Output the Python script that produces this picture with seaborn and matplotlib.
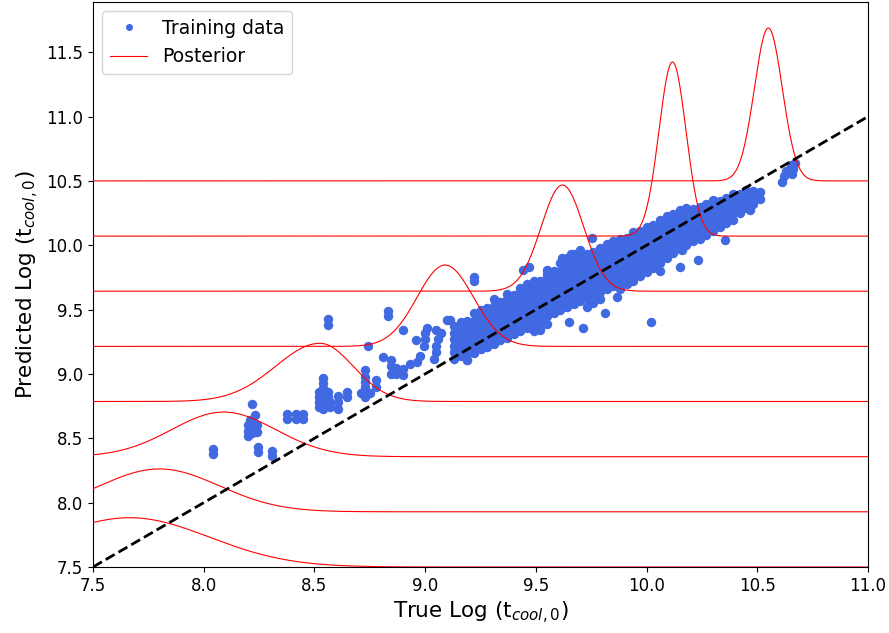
import numpy as np
import pandas as pd
import matplotlib
matplotlib.use("Agg")
import matplotlib.pyplot as plt
from matplotlib.lines import Line2D
import seaborn as sns

# ---------------- data ----------------
# sparse training points (true, predicted)
sparse_x = [8.04, 8.04, 8.22,
            8.20, 8.20, 8.20, 8.21, 8.22, 8.22, 8.22, 8.24, 8.24, 8.23,
            8.245, 8.245, 8.31, 8.31,
            8.375, 8.375, 8.415, 8.415, 8.45, 8.45,
            8.54, 8.54, 8.54, 8.54, 8.54, 8.54, 8.54, 8.52, 8.52, 8.56, 8.56, 8.57, 8.57, 8.52, 8.52,
            8.607, 8.607, 8.607, 8.647, 8.647,
            8.56, 8.56,
            8.74, 8.83, 8.83, 8.90,
            8.73, 8.73, 8.73, 8.73, 8.73, 8.73, 8.71, 8.75,
            8.78, 8.78, 8.81, 8.845, 8.845, 8.845, 8.87, 8.87, 8.90, 8.90, 8.93,
            8.96, 8.965, 8.975, 8.995, 9.00, 9.00, 9.01,
            9.04, 9.05, 9.05, 9.06, 9.07, 9.05, 9.10, 9.11, 9.22, 9.22, 9.19, 9.325]
sparse_y = [8.38, 8.42, 8.77,
            8.52, 8.56, 8.60, 8.64, 8.54, 8.58, 8.62, 8.55, 8.60, 8.68,
            8.39, 8.43, 8.36, 8.40,
            8.65, 8.69, 8.65, 8.69, 8.65, 8.69,
            8.97, 8.93, 8.89, 8.85, 8.81, 8.77, 8.73, 8.86, 8.82, 8.86, 8.82, 8.78, 8.74, 8.78, 8.74,
            8.73, 8.78, 8.83, 8.82, 8.86,
            9.38, 9.43,
            9.22, 9.45, 9.49, 9.34,
            8.82, 8.86, 8.90, 8.94, 8.98, 9.03, 8.85, 8.85,
            8.90, 8.95, 9.13, 9.00, 9.06, 9.11, 9.00, 9.05, 8.99, 9.04, 9.08,
            9.26, 9.09, 9.14, 9.22, 9.27, 9.32, 9.36,
            9.12, 9.17, 9.22, 9.27, 9.32, 9.34, 9.42, 9.42, 9.72, 9.755, 9.11, 9.26]

# dense band: true value of each column and the predicted values seen in it
band_x = [9.13, 9.16, 9.19, 9.22, 9.25, 9.28, 9.31, 9.34, 9.37, 9.40,
          9.43, 9.46, 9.49, 9.52, 9.55, 9.58, 9.61, 9.64, 9.67, 9.70,
          9.73, 9.76, 9.79, 9.82, 9.85, 9.88, 9.91, 9.94, 9.97, 10.00,
          10.03, 10.06, 10.09, 10.12, 10.15, 10.18, 10.21, 10.24, 10.27, 10.30,
          10.33, 10.36, 10.39, 10.42, 10.45, 10.48, 10.51]
band_y = [
    [9.12, 9.17, 9.22, 9.27, 9.32, 9.37],
    [9.14, 9.19, 9.24, 9.29, 9.34, 9.40],
    [9.11, 9.16, 9.21, 9.26, 9.31, 9.36, 9.41],
    [9.16, 9.21, 9.26, 9.31, 9.36, 9.41, 9.47],
    [9.19, 9.24, 9.29, 9.34, 9.39, 9.44, 9.50],
    [9.21, 9.26, 9.31, 9.36, 9.41, 9.46, 9.51],
    [9.23, 9.28, 9.33, 9.38, 9.43, 9.48, 9.53, 9.58],
    [9.26, 9.31, 9.36, 9.41, 9.46, 9.51, 9.56],
    [9.28, 9.33, 9.38, 9.43, 9.48, 9.53, 9.58, 9.62],
    [9.31, 9.36, 9.41, 9.46, 9.51, 9.56, 9.61],
    [9.33, 9.38, 9.43, 9.48, 9.53, 9.58, 9.63, 9.67],
    [9.36, 9.41, 9.46, 9.51, 9.56, 9.61, 9.66, 9.70],
    [9.33, 9.38, 9.43, 9.48, 9.53, 9.58, 9.63, 9.68, 9.72],
    [9.36, 9.42, 9.47, 9.52, 9.57, 9.62, 9.67, 9.72],
    [9.39, 9.45, 9.50, 9.55, 9.60, 9.65, 9.70, 9.75, 9.78],
    [9.47, 9.52, 9.57, 9.62, 9.67, 9.72, 9.77, 9.80],
    [9.50, 9.55, 9.60, 9.65, 9.70, 9.75, 9.80, 9.86],
    [9.52, 9.57, 9.62, 9.67, 9.72, 9.77, 9.82, 9.86, 9.90],
    [9.54, 9.59, 9.64, 9.69, 9.74, 9.79, 9.84, 9.88, 9.93],
    [9.57, 9.62, 9.67, 9.72, 9.77, 9.82, 9.87, 9.91, 9.96],
    [9.52, 9.58, 9.63, 9.68, 9.73, 9.78, 9.83, 9.88, 9.93],
    [9.55, 9.60, 9.65, 9.70, 9.75, 9.80, 9.85, 9.90, 9.95],
    [9.58, 9.64, 9.69, 9.74, 9.79, 9.84, 9.89, 9.94, 9.98],
    [9.66, 9.71, 9.76, 9.81, 9.86, 9.91, 9.96, 10.01],
    [9.68, 9.73, 9.78, 9.83, 9.88, 9.93, 9.98, 10.03],
    [9.66, 9.71, 9.76, 9.81, 9.86, 9.91, 9.96, 10.01, 10.05],
    [9.70, 9.75, 9.80, 9.85, 9.90, 9.95, 10.00, 10.06],
    [9.72, 9.77, 9.82, 9.87, 9.92, 9.97, 10.02, 10.07, 10.10],
    [9.76, 9.81, 9.86, 9.91, 9.96, 10.01, 10.06, 10.11],
    [9.79, 9.84, 9.89, 9.94, 9.99, 10.04, 10.09, 10.14],
    [9.82, 9.87, 9.92, 9.97, 10.02, 10.07, 10.12, 10.16],
    [9.80, 9.86, 9.91, 9.96, 10.01, 10.06, 10.11, 10.16, 10.20],
    [9.90, 9.95, 10.00, 10.05, 10.10, 10.15, 10.20, 10.23],
    [9.94, 9.99, 10.04, 10.09, 10.14, 10.19, 10.24],
    [9.97, 10.02, 10.07, 10.12, 10.17, 10.22, 10.27],
    [10.00, 10.05, 10.10, 10.15, 10.20, 10.25, 10.29],
    [10.03, 10.08, 10.13, 10.18, 10.23, 10.28],
    [10.05, 10.10, 10.15, 10.20, 10.25, 10.30],
    [10.08, 10.13, 10.18, 10.23, 10.28, 10.32],
    [10.11, 10.16, 10.21, 10.26, 10.31, 10.35],
    [10.14, 10.19, 10.24, 10.29, 10.34],
    [10.17, 10.22, 10.27, 10.32, 10.37],
    [10.20, 10.25, 10.30, 10.35, 10.40],
    [10.25, 10.30, 10.35, 10.40],
    [10.29, 10.34, 10.39, 10.43],
    [10.32, 10.37, 10.42],
    [10.36, 10.41],
]

# isolated points around the band and the top-right group
outlier_x = [9.44, 9.47, 9.55, 9.754, 9.52, 9.65, 9.713, 9.81, 9.867, 10.02,
             10.15, 10.23, 10.16, 10.355, 10.467, 10.47, 9.62, 9.66,
             10.61, 10.62, 10.63, 10.65, 10.66, 10.67, 10.655]
outlier_y = [9.81, 9.83, 9.81, 10.056, 9.34, 9.40, 9.357, 9.47, 9.60, 9.40,
             9.83, 9.885, 9.96, 10.04, 10.27, 10.32, 9.90, 9.93,
             10.49, 10.54, 10.58, 10.62, 10.59, 10.64, 10.55]

# posterior curves: baseline, peak location, peak value, left/right widths
post_base = [7.5, 7.929, 8.357, 8.786, 9.214, 9.643, 10.071, 10.5]
post_mu = [7.665, 7.80, 8.09, 8.525, 9.09, 9.62, 10.117, 10.55]
post_peak = [7.883, 8.262, 8.704, 9.238, 9.846, 10.468, 11.424, 11.688]
post_sig_left = [0.36, 0.27, 0.235, 0.20, 0.126, 0.096, 0.061, 0.063]
post_sig_right = [0.36, 0.27, 0.235, 0.15, 0.128, 0.096, 0.061, 0.063]

diag = [7.5, 11.0]
x_ticks = [7.5, 8.0, 8.5, 9.0, 9.5, 10.0, 10.5, 11.0]
y_ticks = [7.5, 8.0, 8.5, 9.0, 9.5, 10.0, 10.5, 11.0, 11.5]

# ---------------- build table ----------------
xs, ys = list(sparse_x), list(sparse_y)
for bx, col in zip(band_x, band_y):
    xs += [bx] * len(col)
    ys += col
xs += outlier_x
ys += outlier_y
train = pd.DataFrame({"true": xs, "pred": ys})

# ---------------- plot ----------------
fig = plt.figure(figsize=(8.89, 6.33), dpi=100)
ax = fig.add_axes([93 / 889, 1 - 567 / 633, (868 - 93) / 889, (567 - 2) / 633])

sns.scatterplot(data=train, x="true", y="pred", color="royalblue", s=46,
                linewidth=0, ax=ax, legend=False, zorder=2)

xg = np.linspace(7.5, 11.0, 1200)
for b, m, p, sl, sr in zip(post_base, post_mu, post_peak, post_sig_left, post_sig_right):
    sig = np.where(xg < m, sl, sr)
    curve = b + (p - b) * np.exp(-0.5 * ((xg - m) / sig) ** 2)
    sns.lineplot(x=xg, y=curve, color="red", linewidth=0.8, ax=ax,
                 estimator=None, sort=False, zorder=3)

sns.lineplot(x=diag, y=diag, color="black", linestyle="--", linewidth=2,
             ax=ax, estimator=None, zorder=4)

ax.set_xlim(7.5, 11.0)
ax.set_ylim(7.5, 11.89)
ax.set_xticks(x_ticks)
ax.set_yticks(y_ticks)
ax.tick_params(labelsize=12)
ax.set_xlabel(r"True Log (t$_{cool,0}$)", fontsize=15.5)
ax.set_ylabel(r"Predicted Log (t$_{cool,0}$)", fontsize=15.5)

handles = [Line2D([0], [0], marker=".", linestyle="", color="royalblue",
                  markersize=8, label="Training data"),
           Line2D([0], [0], color="red", linewidth=0.8, label="Posterior")]
ax.legend(handles=handles, loc="upper left", fontsize=13.5)

fig.savefig("out.png", dpi=100)
